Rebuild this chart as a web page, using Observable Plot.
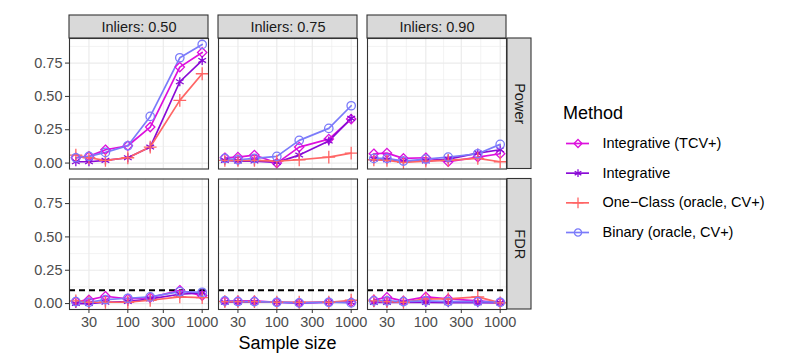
<!DOCTYPE html>
<html><head><meta charset="utf-8">
<script src="https://cdn.jsdelivr.net/npm/d3@7"></script>
<script src="https://cdn.jsdelivr.net/npm/@observablehq/plot@0.6"></script>
<style>
body{margin:0;background:#fff;}
#wrap{position:relative;width:789px;height:364px;font-family:"Liberation Sans",Arial,sans-serif;overflow:hidden;}
#wrap svg{position:absolute;left:0;top:0;overflow:visible;}
.lbl{position:absolute;white-space:nowrap;color:#000;line-height:18px;font-size:18px;}
</style></head><body><div id="wrap"></div>
<script>
// ---- data ----
const inliers = ["0.50", "0.75", "0.90"];
const metrics = ["Power", "FDR"];
const sampleSizes = [20, 30, 50, 100, 200, 500, 1000];
const methods = ["Integrative (TCV+)", "Integrative", "One\u2212Class (oracle, CV+)", "Binary (oracle, CV+)"];
const methodColors = ["#DD10DD", "#8A0AD6", "#FF6565", "#7B7BFA"];
const methodSymbols = ["diamond2", "asterisk", "plus", "circle"];
const xTicks = [30, 100, 300, 1000];
const xMinorTicks = [54.77, 173.2, 547.7];
const yTicks = [0, 0.25, 0.5, 0.75];
const yMinorTicks = [0.125, 0.375, 0.625, 0.875];
const fdrTarget = 0.1;

// rows: inliers 0.50, 0.75, 0.90 ; columns: sampleSizes
const tcvPower = [
  [0.04, 0.05, 0.10, 0.13, 0.27, 0.72, 0.83],
  [0.04, 0.045, 0.06, 0.00, 0.12, 0.18, 0.33],
  [0.07, 0.075, 0.035, 0.04, 0.01, 0.045, 0.07]
];
const integPower = [
  [0.01, 0.01, 0.02, 0.04, 0.12, 0.61, 0.77],
  [0.02, 0.015, 0.015, 0.005, 0.06, 0.165, 0.335],
  [0.03, 0.025, 0.015, 0.015, 0.03, 0.075, 0.10]
];
const oneClassPower = [
  [0.06, 0.04, 0.02, 0.04, 0.12, 0.47, 0.67],
  [0.02, 0.02, 0.02, 0.015, 0.025, 0.045, 0.075],
  [0.025, 0.02, 0.005, 0.015, 0.02, 0.035, 0.01]
];
const binaryPower = [
  [0.04, 0.05, 0.08, 0.13, 0.35, 0.79, 0.89],
  [0.035, 0.025, 0.035, 0.05, 0.17, 0.26, 0.43],
  [0.035, 0.035, 0.015, 0.03, 0.045, 0.07, 0.14]
];
const tcvFDR = [
  [0.015, 0.028, 0.055, 0.035, 0.045, 0.10, 0.06],
  [0.02, 0.02, 0.02, 0.01, 0.005, 0.01, 0.01],
  [0.028, 0.047, 0.02, 0.05, 0.035, 0.02, 0.01]
];
const integFDR = [
  [0.00, 0.00, 0.01, 0.015, 0.035, 0.07, 0.08],
  [0.01, 0.01, 0.01, 0.01, 0.005, 0.01, 0.01],
  [0.008, 0.008, 0.008, 0.008, 0.006, 0.006, 0.005]
];
const oneClassFDR = [
  [0.02, 0.01, 0.01, 0.01, 0.025, 0.05, 0.045],
  [0.015, 0.015, 0.015, 0.01, 0.01, 0.01, 0.025],
  [0.02, 0.015, 0.01, 0.035, 0.035, 0.05, 0.005]
];
const binaryFDR = [
  [0.015, 0.01, 0.03, 0.04, 0.05, 0.09, 0.085],
  [0.02, 0.015, 0.015, 0.01, 0.005, 0.01, 0.005],
  [0.02, 0.02, 0.015, 0.02, 0.015, 0.015, 0.01]
];

// ---- table build ----
const seriesList = [
  [methods[0], "Power", tcvPower], [methods[1], "Power", integPower],
  [methods[2], "Power", oneClassPower], [methods[3], "Power", binaryPower],
  [methods[0], "FDR", tcvFDR], [methods[1], "FDR", integFDR],
  [methods[2], "FDR", oneClassFDR], [methods[3], "FDR", binaryFDR]
];
const rows = [];
for (const [method, metric, vals] of seriesList)
  inliers.forEach((inl, i) => sampleSizes.forEach((n, j) =>
    rows.push({method, metric, inl, n, v: vals[i][j]})));
const refRows = inliers.map(inl => ({inl, metric: "FDR", v: fdrTarget}));
const colStrips = inliers.map(inl => ({inl, metric: metrics[0]}));
const rowStrips = metrics.map(metric => ({inl: inliers[inliers.length - 1], metric}));

const FONT = '"Liberation Sans", Arial, sans-serif';
const GRID = "#EBEBEB";

const plot = Plot.plot({
  width: 789, height: 364,
  marginLeft: 69, marginRight: 283, marginTop: 38, marginBottom: 55,
  style: {fontFamily: FONT, fontSize: "14.5px", background: "transparent"},
  fx: {domain: inliers, paddingInner: 10 / 149, paddingOuter: 0, round: false, axis: null},
  fy: {domain: metrics, paddingInner: 10 / 140.5, paddingOuter: 0, round: false, axis: null},
  x: {type: "log", domain: [16.43, 1216]},
  y: {domain: [-0.0445, 0.9345]},
  color: {domain: methods, range: methodColors},
  symbol: {domain: methods, range: methodSymbols},
  marks: [
    Plot.gridY({ticks: yMinorTicks, stroke: GRID, strokeOpacity: 1, strokeWidth: 0.6}),
    Plot.gridX({ticks: xMinorTicks, stroke: GRID, strokeOpacity: 1, strokeWidth: 0.6}),
    Plot.gridY({ticks: yTicks, stroke: GRID, strokeOpacity: 1, strokeWidth: 1.2}),
    Plot.gridX({ticks: xTicks, stroke: GRID, strokeOpacity: 1, strokeWidth: 1.2}),
    Plot.ruleY(refRows, {fx: "inl", fy: "metric", y: "v", stroke: "#000", strokeWidth: 1.8, strokeDasharray: "6,4"}),
    Plot.line(rows, {fx: "inl", fy: "metric", x: "n", y: "v", z: "method", stroke: "method", strokeWidth: 1.7}),
    Plot.dot(rows, {fx: "inl", fy: "metric", x: "n", y: "v", stroke: "method", symbol: "method", r: 4.2, strokeWidth: 1.3, fill: "none"}),
    Plot.frame({stroke: "#333333", strokeWidth: 1.1}),
    Plot.axisY({ticks: yTicks, tickFormat: d3.format(".2f"), label: null, tickSize: 4, tickPadding: 3, stroke: "#333333", fill: "#4D4D4D"}),
    Plot.axisX({ticks: xTicks, tickFormat: d3.format("d"), label: null, tickSize: 4, tickPadding: 3, stroke: "#333333", fill: "#4D4D4D"}),
    Plot.text(colStrips, {fx: "inl", fy: "metric", frameAnchor: "top", dy: -11.5, lineAnchor: "middle", textAnchor: "middle", text: d => "Inliers: " + d.inl, fill: "#1A1A1A"}),
    Plot.text(rowStrips, {fx: "inl", fy: "metric", frameAnchor: "right", dx: 13, lineAnchor: "middle", textAnchor: "middle", rotate: 90, text: "metric", fill: "#1A1A1A"})
  ]
});

const wrap = document.getElementById("wrap");
wrap.appendChild(plot);
const svgEl = plot.tagName.toLowerCase() === "svg" ? plot : plot.querySelector("svg");

// strip backgrounds placed with the facet scales
const fxS = plot.scale("fx"), fyS = plot.scale("fy");
const fxBW = fxS.bandwidth ?? 139, fyBW = fyS.bandwidth ?? 130.5;
const ns = "http://www.w3.org/2000/svg";
const g = document.createElementNS(ns, "g");
svgEl.insertBefore(g, svgEl.children[1] || null);
const gs = d3.select(g);
const topY = fyS.apply(metrics[0]);
inliers.forEach(c => {
  gs.append("rect").attr("x", fxS.apply(c)).attr("y", topY - 23).attr("width", fxBW).attr("height", 23)
    .attr("fill", "#D9D9D9").attr("stroke", "#333333").attr("stroke-width", 1.1);
});
const rightX = fxS.apply(inliers[inliers.length - 1]) + fxBW;
metrics.forEach(m => {
  gs.append("rect").attr("x", rightX + 1).attr("y", fyS.apply(m)).attr("width", 24).attr("height", fyBW)
    .attr("fill", "#D9D9D9").attr("stroke", "#333333").attr("stroke-width", 1.1);
});

// legend, drawn with the same scales
const leg = Plot.plot({
  width: 240, height: 120, marginLeft: 6, marginRight: 211, marginTop: 15, marginBottom: 16,
  style: {fontFamily: FONT, fontSize: "14.5px", background: "transparent"},
  y: {type: "point", domain: methods, padding: 0, round: false, axis: null},
  color: {domain: methods, range: methodColors},
  symbol: {domain: methods, range: methodSymbols},
  marks: [
    Plot.ruleY(methods, {y: d => d, stroke: d => d, strokeWidth: 1.7}),
    Plot.dot(methods, {y: d => d, frameAnchor: "middle", stroke: d => d, symbol: d => d, r: 3.6, strokeWidth: 1.3, fill: "none"}),
    Plot.text(methods, {y: d => d, frameAnchor: "right", dx: 13, textAnchor: "start", text: d => d, fill: "#000"})
  ]
});
leg.style.left = "560px"; leg.style.top = "128px";
wrap.appendChild(leg);

const title = document.createElement("div");
title.className = "lbl"; title.textContent = "Method";
title.style.left = "563px"; title.style.top = "104px";
wrap.appendChild(title);

const xt = document.createElement("div");
xt.className = "lbl"; xt.textContent = "Sample size";
xt.style.left = "69px"; xt.style.width = "437px"; xt.style.textAlign = "center"; xt.style.top = "334px";
wrap.appendChild(xt);
</script></body></html>
